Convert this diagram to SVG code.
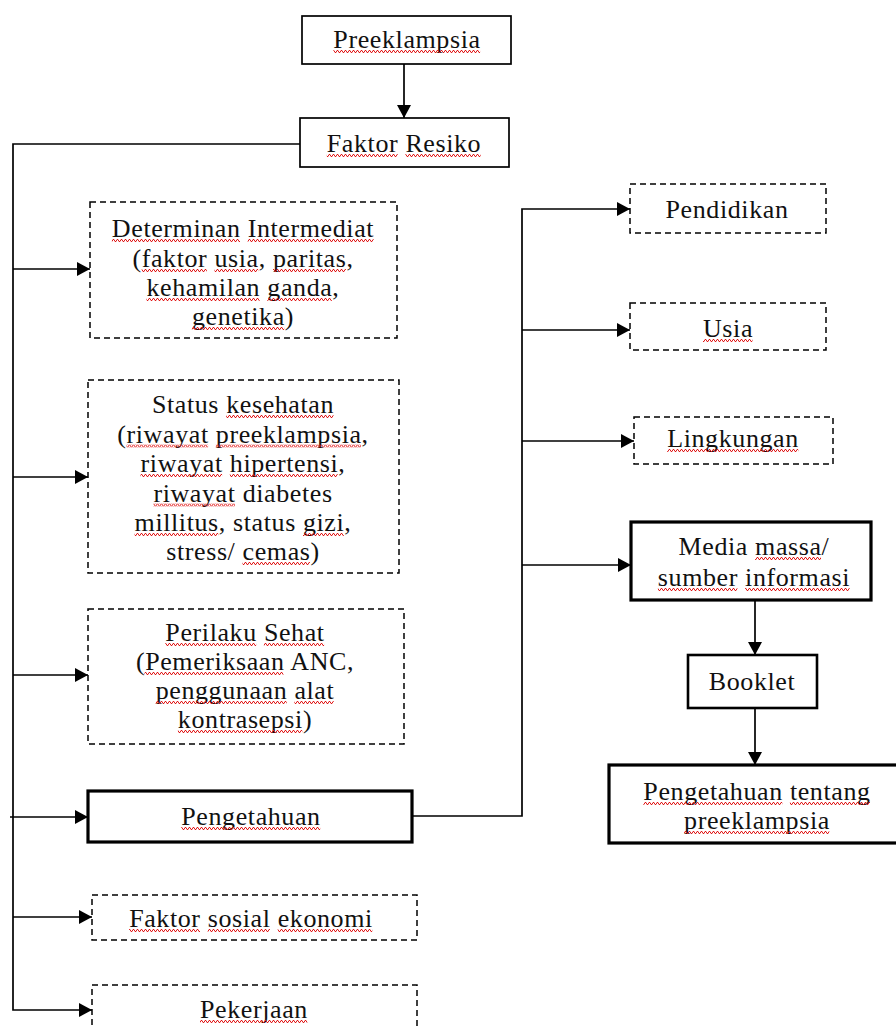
<svg xmlns="http://www.w3.org/2000/svg" width="896" height="1028" viewBox="0 0 896 1028">
<defs>
<marker id="ah" markerWidth="13" markerHeight="14" refX="13" refY="7" orient="auto" markerUnits="userSpaceOnUse">
<path d="M0,0 L13,7 L0,14 z" fill="#000"/>
</marker>
<pattern id="wv" patternUnits="userSpaceOnUse" x="0" y="2" width="4" height="3">
<path d="M0 2.5 L1 0.5 L2 0.5 L3 2.5 L4 2.5" fill="none" stroke="#e01818" stroke-width="1"/>
</pattern>
<style>
.t{font-size:26px;letter-spacing:0.6px;fill:#111;text-anchor:middle}
.solid{fill:#fff;stroke:#000;stroke-width:1.7}
.thick{fill:#fff;stroke:#000;stroke-width:3.2}
.mid{fill:#fff;stroke:#000;stroke-width:2.6}
.dash{fill:#fff;stroke:#000;stroke-width:1.5;stroke-dasharray:6 4}
.ca{fill:none;stroke:#000;stroke-width:1.7;marker-end:url(#ah)}
.w{fill:url(#wv)}
</style>
</defs>
<rect width="896" height="1028" fill="#fff"/>
<g id="connectors">
<path class="ca" d="M404 64 V118"/>
<path class="ca" d="M300 144 H13 V1010 H92"/>
<path class="ca" d="M13 269 H90"/>
<path class="ca" d="M13 477 H88"/>
<path class="ca" d="M13 675 H88"/>
<path class="ca" d="M10 817 H88"/>
<path class="ca" d="M13 917 H92"/>
<path class="ca" d="M412 816 H522 V209 H630"/>
<path class="ca" d="M522 330 H630"/>
<path class="ca" d="M522 441 H634"/>
<path class="ca" d="M522 565 H631"/>
<path class="ca" d="M755 600 V655"/>
<path class="ca" d="M755 708 V765"/>
</g>
<g font-family="Liberation Serif, Times New Roman, serif">
<g id="preeklampsia">
<rect class="solid" x="302" y="16" width="209" height="48"/>
<text class="t" x="407" y="48">Preeklampsia</text>
</g>
<g id="faktor-resiko">
<rect class="solid" x="300" y="118" width="209" height="49"/>
<text class="t" x="404" y="152">Faktor Resiko</text>
</g>
<g id="determinan">
<rect class="dash" x="90" y="202" width="307" height="136"/>
<text class="t" x="243" y="237">Determinan Intermediat</text>
<text class="t" x="243" y="267">(faktor usia, paritas,</text>
<text class="t" x="243" y="296">kehamilan ganda,</text>
<text class="t" x="243" y="325">genetika)</text>
</g>
<g id="status-kesehatan">
<rect class="dash" x="88" y="380" width="311" height="193"/>
<text class="t" x="243" y="413">Status kesehatan</text>
<text class="t" x="243" y="442.5">(riwayat preeklampsia,</text>
<text class="t" x="243" y="472">riwayat hipertensi,</text>
<text class="t" x="243" y="501.5">riwayat diabetes</text>
<text class="t" x="243" y="531">millitus, status gizi,</text>
<text class="t" x="243" y="560">stress/ cemas)</text>
</g>
<g id="perilaku-sehat">
<rect class="dash" x="88" y="609" width="316" height="135"/>
<text class="t" x="245" y="641">Perilaku Sehat</text>
<text class="t" x="245" y="670">(Pemeriksaan ANC,</text>
<text class="t" x="245" y="699">penggunaan alat</text>
<text class="t" x="245" y="728">kontrasepsi)</text>
</g>
<g id="pengetahuan">
<rect class="thick" x="88" y="791" width="324" height="51"/>
<text class="t" x="251" y="825">Pengetahuan</text>
</g>
<g id="sosial-ekonomi">
<rect class="dash" x="92" y="895" width="325" height="45"/>
<text class="t" x="251" y="927">Faktor sosial ekonomi</text>
</g>
<g id="pekerjaan">
<rect class="dash" x="92" y="985" width="325" height="70"/>
<text class="t" x="254" y="1018">Pekerjaan</text>
</g>
<g id="pendidikan">
<rect class="dash" x="630" y="184" width="196" height="49"/>
<text class="t" x="727" y="218">Pendidikan</text>
</g>
<g id="usia">
<rect class="dash" x="630" y="303" width="196" height="47"/>
<text class="t" x="728" y="337">Usia</text>
</g>
<g id="lingkungan">
<rect class="dash" x="634" y="417" width="199" height="47"/>
<text class="t" x="733" y="447">Lingkungan</text>
</g>
<g id="media-massa">
<rect class="thick" x="631" y="522" width="240" height="78"/>
<text class="t" x="754" y="555">Media massa/</text>
<text class="t" x="754" y="586">sumber informasi</text>
</g>
<g id="booklet">
<rect class="mid" x="688" y="655" width="129" height="53"/>
<text class="t" x="752" y="690">Booklet</text>
</g>
<g id="pengetahuan-preeklampsia">
<rect class="thick" x="609" y="765" width="300" height="78"/>
<text class="t" x="757" y="800">Pengetahuan tentang</text>
<text class="t" x="757" y="829">preeklampsia</text>
</g>
</g>
<g id="spellcheck-underlines">
<g transform="translate(0,48)"><rect class="w" x="333.4" y="2" width="146.7" height="3"/></g>
<g transform="translate(0,152)"><rect class="w" x="326.8" y="2" width="70.9" height="3"/><rect class="w" x="405.4" y="2" width="75.2" height="3"/></g>
<g transform="translate(0,237)"><rect class="w" x="111.9" y="2" width="128.1" height="3"/><rect class="w" x="247.7" y="2" width="125.9" height="3"/></g>
<g transform="translate(0,267)"><rect class="w" x="141.7" y="2" width="65.1" height="3"/><rect class="w" x="214.5" y="2" width="43.7" height="3"/><rect class="w" x="273" y="2" width="72.9" height="3"/></g>
<g transform="translate(0,296)"><rect class="w" x="146.5" y="2" width="113.1" height="3"/><rect class="w" x="267.3" y="2" width="64.5" height="3"/></g>
<g transform="translate(0,325)"><rect class="w" x="191.9" y="2" width="92.3" height="3"/></g>
<g transform="translate(0,413)"><rect class="w" x="226.2" y="2" width="107.3" height="3"/></g>
<g transform="translate(0,442.5)"><rect class="w" x="126.5" y="2" width="81.6" height="3"/><rect class="w" x="215.8" y="2" width="145.2" height="3"/></g>
<g transform="translate(0,472)"><rect class="w" x="140.5" y="2" width="81.6" height="3"/><rect class="w" x="229.8" y="2" width="107.9" height="3"/></g>
<g transform="translate(0,501.5)"><rect class="w" x="153.4" y="2" width="81.6" height="3"/></g>
<g transform="translate(0,531)"><rect class="w" x="134.6" y="2" width="83.7" height="3"/><rect class="w" x="303" y="2" width="40.8" height="3"/></g>
<g transform="translate(0,560)"><rect class="w" x="242.5" y="2" width="67.4" height="3"/></g>
<g transform="translate(0,641)"><rect class="w" x="165.3" y="2" width="90.9" height="3"/><rect class="w" x="263.9" y="2" width="60.2" height="3"/></g>
<g transform="translate(0,670)"><rect class="w" x="144.5" y="2" width="138.9" height="3"/></g>
<g transform="translate(0,699)"><rect class="w" x="155.7" y="2" width="131" height="3"/><rect class="w" x="294.4" y="2" width="39.3" height="3"/></g>
<g transform="translate(0,728)"><rect class="w" x="177.9" y="2" width="124.4" height="3"/></g>
<g transform="translate(0,825)"><rect class="w" x="181.3" y="2" width="138.9" height="3"/></g>
<g transform="translate(0,927)"><rect class="w" x="129.1" y="2" width="70.9" height="3"/><rect class="w" x="207.7" y="2" width="62.2" height="3"/><rect class="w" x="277.7" y="2" width="94.6" height="3"/></g>
<g transform="translate(0,1018)"><rect class="w" x="200" y="2" width="107.3" height="3"/></g>
<g transform="translate(0,337)"><rect class="w" x="703" y="2" width="49.5" height="3"/></g>
<g transform="translate(0,447)"><rect class="w" x="667.2" y="2" width="131.1" height="3"/></g>
<g transform="translate(0,555)"><rect class="w" x="755.1" y="2" width="65.9" height="3"/></g>
<g transform="translate(0,586)"><rect class="w" x="657.9" y="2" width="79.5" height="3"/><rect class="w" x="745.1" y="2" width="104.5" height="3"/></g>
<g transform="translate(0,800)"><rect class="w" x="643.4" y="2" width="138.9" height="3"/><rect class="w" x="789.9" y="2" width="80.1" height="3"/></g>
<g transform="translate(0,829)"><rect class="w" x="684.1" y="2" width="145.2" height="3"/></g>
</g>
</svg>
